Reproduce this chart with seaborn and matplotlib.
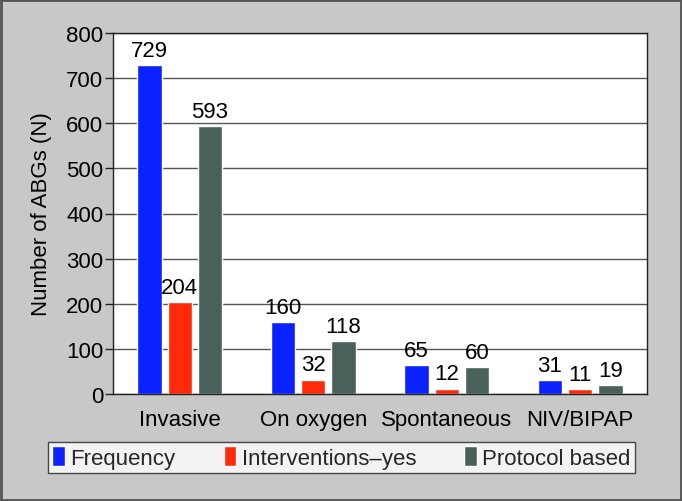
import matplotlib
matplotlib.use("Agg")
import matplotlib.pyplot as plt
import seaborn as sns
import pandas as pd

categories = ["Invasive", "On oxygen", "Spontaneous", "NIV/BIPAP"]
series = ["Frequency", "Interventions\u2013yes", "Protocol based"]
frequency = [729, 160, 65, 31]
interventions = [204, 32, 12, 11]
protocol = [593, 118, 60, 19]
colors = ["#0a22ff", "#ff2a0a", "#4a605a"]

rows = []
for s, vals in zip(series, [frequency, interventions, protocol]):
    for c, v in zip(categories, vals):
        rows.append({"cat": c, "series": s, "value": v})
df = pd.DataFrame(rows)

sns.set_theme(style="white")
plt.rcParams["font.family"] = ["Liberation Sans", "DejaVu Sans"]

FS = 16
fig = plt.figure(figsize=(6.82, 5.02), dpi=100, facecolor="#c8c8c8")
ax = fig.add_axes([113/682, 1-395/502, 534/682, 361/502])
ax.set_facecolor("white")

sns.barplot(data=df, x="cat", y="value", hue="series", hue_order=series,
            order=categories, palette=colors, width=0.68, gap=0.2,
            saturation=1, ax=ax, legend=True, errorbar=None)

ax.set_ylim(0, 800)
ax.set_xlim(-0.5, 3.5)
ax.set_yticks(range(0, 801, 100))
ax.yaxis.grid(True, color="#555555", linewidth=1)
ax.set_axisbelow(True)
for sp in ax.spines.values():
    sp.set_color("#222222")
    sp.set_linewidth(1)
ax.tick_params(axis="y", which="both", left=True, length=6, width=1, color="#222222",
               labelsize=FS, pad=1, labelcolor="black")
ax.tick_params(axis="x", bottom=False, labelsize=FS, pad=5, labelcolor="black")
ax.set_xlabel("")
ax.set_ylabel("Number of ABGs (N)", fontsize=FS, labelpad=10, color="black")

for cont in ax.containers:
    ax.bar_label(cont, fontsize=FS, padding=3, color="black")

h, l = ax.get_legend_handles_labels()
ax.legend_.remove()
leg = fig.legend(h, l, loc="lower left", bbox_to_anchor=(48/682, 1-474/502, 587/682, 34/502),
                 mode="expand", ncol=3, frameon=True, fontsize=FS, handlelength=0.55,
                 handleheight=1.0, handletextpad=0.25, borderaxespad=0, borderpad=0.2,
                 fancybox=False, columnspacing=1.0)
leg.get_frame().set_edgecolor("#222222")
leg.get_frame().set_facecolor("white")
leg.get_frame().set_linewidth(1)

fig.patches.append(plt.Rectangle((0.002, 0.002), 0.996, 0.996, transform=fig.transFigure,
                                 fill=False, edgecolor="#555555", linewidth=2))

fig.savefig("out.png", dpi=100, facecolor=fig.get_facecolor())
